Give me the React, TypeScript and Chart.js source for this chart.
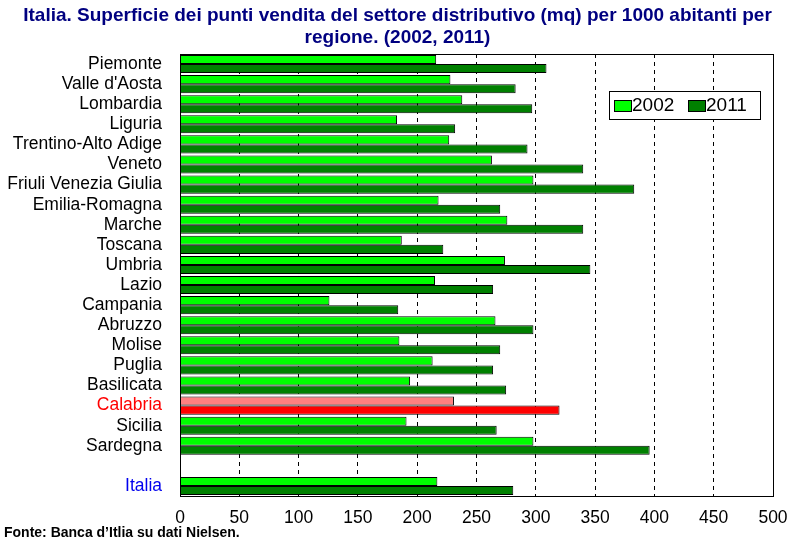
import React, { useEffect, useRef } from 'react';
import { Chart, registerables } from 'chart.js';

Chart.register(...registerables);

const categories = [
  'Piemonte', "Valle d'Aosta", 'Lombardia', 'Liguria', 'Trentino-Alto Adige', 'Veneto',
  'Friuli Venezia Giulia', 'Emilia-Romagna', 'Marche', 'Toscana', 'Umbria', 'Lazio',
  'Campania', 'Abruzzo', 'Molise', 'Puglia', 'Basilicata', 'Calabria', 'Sicilia', 'Sardegna',
  '', 'Italia',
];
const values2002: (number | null)[] = [
  216, 228, 238, 183, 227, 263, 298, 218, 276, 187, 274, 215,
  126, 266, 185, 213, 194, 231, 191, 298, null, 217,
];
const values2011: (number | null)[] = [
  309, 283, 297, 232, 293, 340, 383, 270, 340, 222, 346, 264,
  184, 298, 270, 264, 275, 320, 267, 396, null, 281,
];
const xTicks = [0, 50, 100, 150, 200, 250, 300, 350, 400, 450, 500];
const seriesNames = ['2002', '2011'];
const titleLines = [
  'Italia. Superficie dei punti vendita del settore distributivo (mq) per 1000 abitanti per',
  'regione. (2002, 2011)',
];
const sourceText = 'Fonte: Banca d\u2019Itlia su dati Nielsen.';
const highlightRegion = 'Calabria';
const totalRegion = 'Italia';

const FONT = 'Arial, "Liberation Sans", Helvetica, sans-serif';
const COL_2002 = '#00FF00';
const COL_2011 = '#008000';
const COL_HL_2002 = '#FF8080';
const COL_HL_2011 = '#FF0000';

const decorPlugin = {
  id: 'decor',
  afterDatasetsDraw(chart: any) {
    const { ctx, chartArea } = chart;
    ctx.save();
    ctx.strokeStyle = '#000';
    ctx.lineWidth = 1;
    ctx.setLineDash([]);
    ctx.strokeRect(
      Math.round(chartArea.left) + 0.5,
      Math.round(chartArea.top) + 0.5,
      Math.round(chartArea.right - chartArea.left),
      Math.round(chartArea.bottom - chartArea.top)
    );
    const lx = 609, ly = 91, lw = 151, lh = 28;
    ctx.fillStyle = '#fff';
    ctx.fillRect(lx, ly, lw, lh);
    ctx.strokeRect(lx + 0.5, ly + 0.5, lw, lh);
    const items = [
      { sx: 614, color: COL_2002, text: seriesNames[0] },
      { sx: 688, color: COL_2011, text: seriesNames[1] },
    ];
    ctx.font = `19px ${FONT}`;
    ctx.textBaseline = 'middle';
    ctx.textAlign = 'left';
    for (const it of items) {
      ctx.fillStyle = it.color;
      ctx.fillRect(it.sx, 100, 17, 11);
      ctx.strokeStyle = '#000';
      ctx.strokeRect(it.sx + 0.5, 100.5, 17, 11);
      ctx.fillStyle = '#000';
      ctx.fillText(it.text, it.sx + 18, 106);
    }
    ctx.restore();
  },
  afterDraw(chart: any) {
    const { ctx, width } = chart;
    ctx.save();
    ctx.fillStyle = '#000080';
    ctx.font = `bold 19px ${FONT}`;
    ctx.textAlign = 'center';
    ctx.textBaseline = 'alphabetic';
    ctx.fillText(titleLines[0], width / 2, 20.5);
    ctx.fillText(titleLines[1], width / 2, 43);
    ctx.fillStyle = '#000';
    ctx.font = `bold 14px ${FONT}`;
    ctx.textAlign = 'left';
    ctx.fillText(sourceText, 4, 537);
    ctx.restore();
  },
};

export default function App() {
  const ref = useRef<HTMLCanvasElement>(null);
  useEffect(() => {
    document.body.style.margin = '0';
    const canvas = ref.current!;
    const chart = new Chart(canvas, {
      type: 'bar',
      data: {
        labels: categories,
        datasets: [
          {
            label: seriesNames[0],
            data: values2002,
            backgroundColor: categories.map((c) => (c === highlightRegion ? COL_HL_2002 : COL_2002)),
            borderColor: '#000',
            borderWidth: 1,
            categoryPercentage: 0.9,
            barPercentage: 1.0,
          },
          {
            label: seriesNames[1],
            data: values2011,
            backgroundColor: categories.map((c) => (c === highlightRegion ? COL_HL_2011 : COL_2011)),
            borderColor: '#000',
            borderWidth: 1,
            categoryPercentage: 0.9,
            barPercentage: 1.0,
          },
        ],
      },
      options: {
        indexAxis: 'y',
        responsive: false,
        maintainAspectRatio: false,
        animation: false,
        layout: { padding: { top: 54, right: 22, left: 0, bottom: 0 } },
        plugins: {
          legend: { display: false },
          title: { display: false },
          tooltip: { enabled: false },
        },
        scales: {
          x: {
            type: 'linear',
            min: 0,
            max: 500,
            afterBuildTicks: (scale: any) => {
              scale.ticks = xTicks.map((v) => ({ value: v }));
            },
            afterFit: (scale: any) => {
              scale.height = 49;
              scale.paddingLeft = 0;
              scale.paddingRight = 0;
            },
            grid: {
              color: (c: any) =>
                c.tick && (c.tick.value === 0 || c.tick.value === 500) ? 'rgba(0,0,0,0)' : '#000',
              lineWidth: 1,
              tickLength: 0,
              drawTicks: false,
            },
            border: { display: false, dash: [4, 4] },
            ticks: {
              color: '#000',
              font: { family: FONT, size: 17.5 },
              padding: 12,
              maxRotation: 0,
              autoSkip: false,
            },
          },
          y: {
            afterFit: (scale: any) => {
              scale.width = 180;
              scale.paddingTop = 0;
              scale.paddingBottom = 0;
            },
            grid: { display: false, drawTicks: false, tickLength: 0 },
            border: { display: false },
            ticks: {
              autoSkip: false,
              padding: 18,
              font: { family: FONT, size: 17.5 },
              color: (c: any) => {
                const lbl = categories[c.index];
                if (lbl === highlightRegion) return '#FF0000';
                if (lbl === totalRegion) return '#0000EE';
                return '#000';
              },
            },
          },
        },
      },
      plugins: [decorPlugin],
    });
    return () => chart.destroy();
  }, []);
  return <canvas ref={ref} width={795} height={545} style={{ display: 'block' }} />;
}
